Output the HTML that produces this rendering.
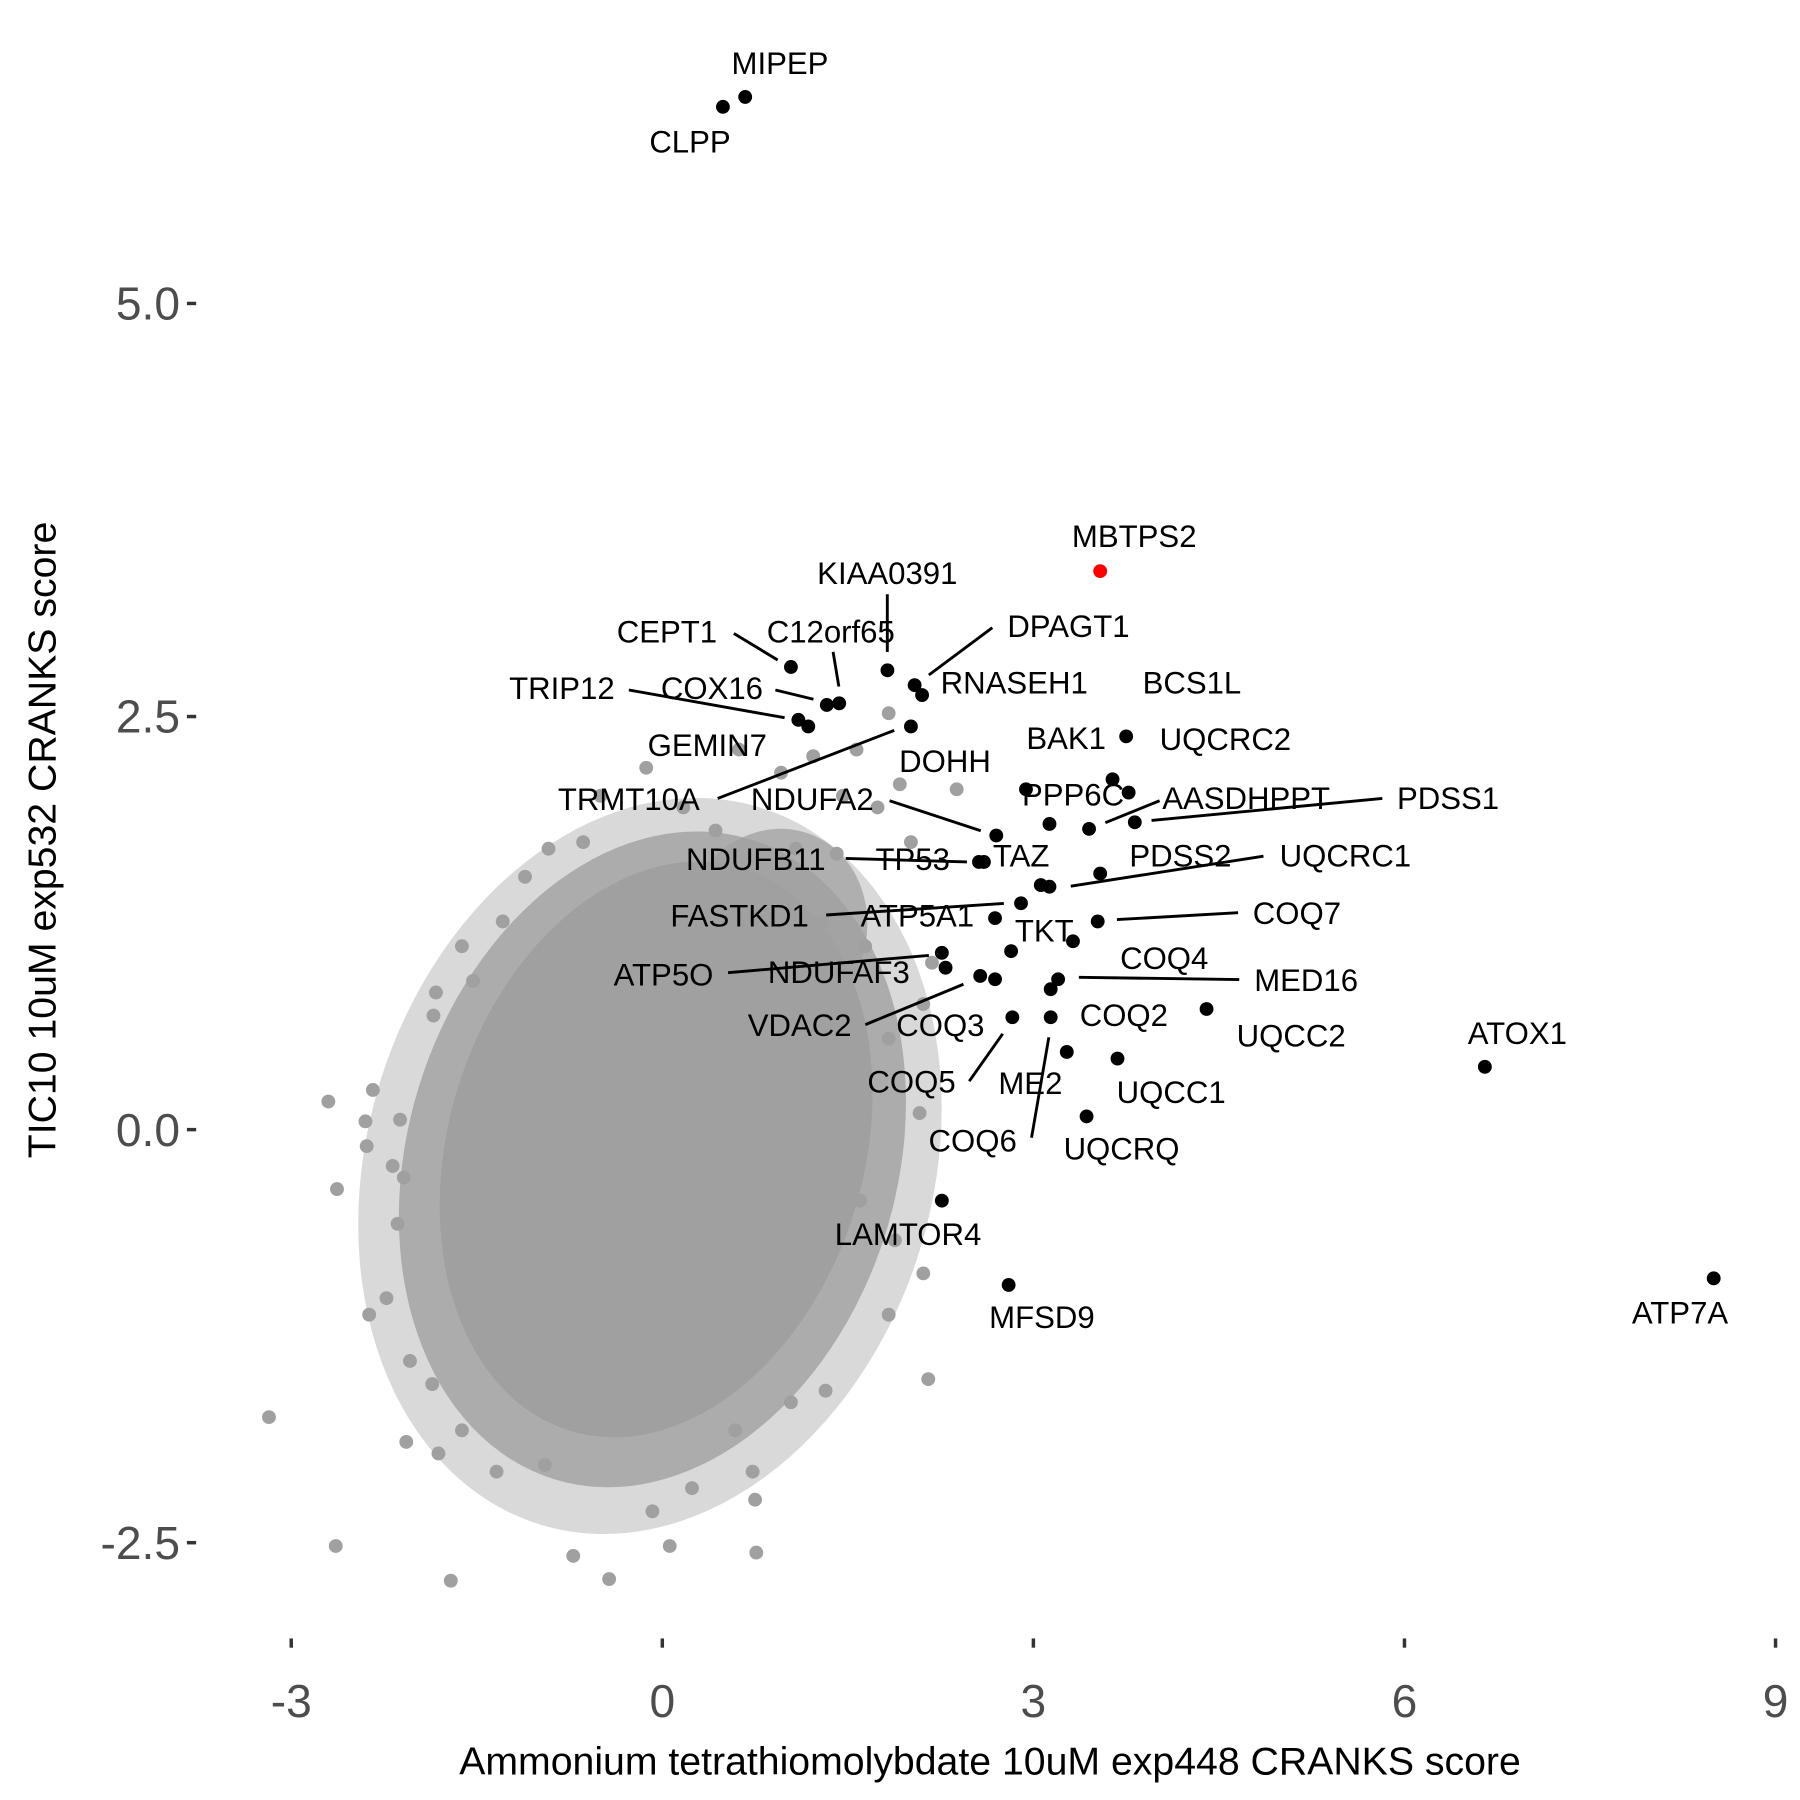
<!DOCTYPE html>
<html><head><meta charset="utf-8"><style>
html,body{margin:0;padding:0;background:#fff;}
svg{display:block;font-family:"Liberation Sans",Arial,sans-serif;}
</style></head><body>
<svg id="chart" width="1800" height="1800" viewBox="0 0 1560 1560" xmlns="http://www.w3.org/2000/svg">
<g id="axes"></g>
<g id="cloud"></g>
<g id="hits"></g>
<text x="858" y="1538" font-size="34" text-anchor="middle" fill="#000">Ammonium tetrathiomolybdate 10uM exp448 CRANKS score</text>
<text transform="translate(48,728) rotate(-90)" font-size="34" text-anchor="middle" fill="#000">TIC10 10uM exp532 CRANKS score</text>
</svg>
<script>
const xTicks=[-3,0,3,6,9];
const xTickLabels=["-3","0","3","6","9"];
const yTicks=[5,2.5,0,-2.5];
const yTickLabels=["5.0","2.5","0.0","-2.5"];
const bgX=[-2.70,-2.63,-3.18,-2.64,-1.71,-2.34,-2.40,-2.39,-0.72,-0.43,0.75,0.73,2.15,2.38,2.08,2.11,1.88,0.76,0.06,-2.23,-2.37,-1.81,-2.07,-2.14,-2.09,-1.83,-1.85,-1.29,-0.92,-0.50,-0.13,0.17,0.62,0.96,1.22,1.57,1.83,1.92,1.46,1.74,2.01,2.18,2.11,1.83,1.55,1.60,1.83,1.32,1.04,0.59,0.24,-0.08,-0.95,-1.34,-1.62,-1.86,-2.04,-2.12,-2.18,-1.62,-1.53,-1.11,-0.64,0.43,1.08,1.41,1.29,1.64];
const bgY=[0.17,-0.36,-1.74,-2.52,-2.73,0.24,0.05,-0.10,-2.58,-2.72,-2.24,-2.07,-1.51,2.06,0.10,-0.87,-0.67,-2.56,-2.52,-1.02,-1.12,-1.96,-1.89,-0.57,-0.29,0.83,0.69,1.26,1.70,2.02,2.19,1.95,2.30,2.16,2.26,2.30,2.52,2.09,2.02,1.95,1.74,1.01,0.76,0.55,0.13,-0.43,-1.12,-1.58,-1.65,-1.82,-2.17,-2.31,-2.03,-2.07,-1.82,-1.54,-1.40,0.06,-0.22,1.11,0.90,1.53,1.74,1.81,1.70,1.67,1.25,1.11];
const hitNames=["MIPEP","CLPP","MBTPS2","KIAA0391","DPAGT1","C12orf65","CEPT1","RNASEH1","COX16","TRIP12","GEMIN7","TRMT10A","BCS1L","UQCRC2","BAK1","PPP6C","DOHH","AASDHPPT","PDSS1","NDUFA2","NDUFB11","TP53","PDSS2","UQCRC1","TAZ","FASTKD1","ATP5A1","COQ7","TKT","TKT2","ATP5O","NDUFAF3","MED16","COQ4","COQ3","VDAC2","UQCC2","COQ2","ATOX1","COQ5","ME2","UQCC1","UQCRQ","LAMTOR4","MFSD9","ATP7A"];
const hitX=[0.67,0.49,3.54,1.82,2.04,1.43,1.04,2.10,1.33,1.10,1.18,2.01,3.75,3.64,3.77,2.94,3.13,3.45,3.82,2.70,2.56,2.60,3.54,3.06,3.13,2.90,2.69,3.52,3.32,2.82,2.26,2.29,3.20,3.14,2.57,2.69,4.40,3.14,6.65,2.83,3.27,3.68,3.43,2.26,2.80,8.50];
const hitY=[6.25,6.19,3.38,2.78,2.69,2.58,2.80,2.63,2.57,2.48,2.44,2.44,2.38,2.12,2.04,2.06,1.85,1.82,1.86,1.78,1.62,1.62,1.55,1.48,1.47,1.37,1.28,1.26,1.14,1.08,1.07,0.98,0.91,0.85,0.93,0.91,0.73,0.68,0.38,0.68,0.47,0.43,0.08,-0.43,-0.94,-0.90];
// label layout: [text, x, y, line(x1,y1,x2,y2) or null]
const labelLayout=[
["MIPEP",676,64,null],["CLPP",598,132,null],["MBTPS2",983,474,null],
["KIAA0391",769,506,[769,515,769,565]],["DPAGT1",926,552,[860,544,805,585]],
["C12orf65",720,557,[722,565,727,595]],["CEPT1",578,557,[636,549,674,572]],
["RNASEH1",879,601,null],["COX16",617,606,[672,598,705,606]],["TRIP12",487,606,[545,598,680,622]],
["GEMIN7",613,655,null],["TRMT10A",545,702,[622,692,775,633]],["DOHH",819,669,null],
["BCS1L",1033,601,null],["UQCRC2",1062,650,null],["BAK1",924,649,null],["PPP6C",930,698,null],
["AASDHPPT",1080,701,[1005,694,958,713]],["PDSS1",1255,701,[1198,692,998,711]],
["NDUFA2",704,702,[771,694,850,720]],["NDUFB11",655,754,[733,744,838,747]],["TP53",791,754,null],
["TAZ",885,751,null],["PDSS2",1023,751,null],["UQCRC1",1166,751,[1095,742,928,768]],
["FASTKD1",641,803,[716,793,870,783]],["ATP5A1",795,803,null],["COQ7",1124,801,[1073,791,968,797]],
["TKT",905,816,null],["COQ4",1009,840,null],["ATP5O",575,854,[631,843,805,828]],["NDUFAF3",727,852,null],
["MED16",1132,859,[1074,849,935,847]],["COQ3",815,898,null],["VDAC2",693,898,[750,888,835,853]],
["UQCC2",1119,907,null],["COQ2",974,889,null],["ATOX1",1315,905,null],
["COQ5",790,947,[840,937,869,896]],["ME2",893,948,null],["UQCC1",1015,956,null],
["COQ6",843,998,[894,986,909,899]],["UQCRQ",972,1005,null],["LAMTOR4",787,1079,null],
["MFSD9",903,1151,null],["ATP7A",1456,1147,null]];
const NS="http://www.w3.org/2000/svg";
const sx=v=>574+v*107.2;
const sy=v=>979-v*143.2;
function mk(tag,attrs,parent){const e=document.createElementNS(NS,tag);for(const k in attrs)e.setAttribute(k,attrs[k]);parent.appendChild(e);return e;}
const axes=document.getElementById('axes');
xTicks.forEach((t,i)=>{
 const l=mk('line',{x1:sx(t),x2:sx(t),y1:1420,y2:1428,stroke:'#333','stroke-width':3},axes);
 
 
 const tx=mk('text',{x:sx(t),y:1488,'font-size':40,'text-anchor':'middle',fill:'#4d4d4d'},axes);
 tx.textContent=xTickLabels[i];
 
 
});
yTicks.forEach((t,i)=>{
 const l=mk('line',{x1:162,x2:170,y1:sy(t),y2:sy(t),stroke:'#333','stroke-width':3},axes);
 
 
 const tx=mk('text',{x:156,y:sy(t)+14,'font-size':40,'text-anchor':'end',fill:'#4d4d4d'},axes);
 tx.textContent=yTickLabels[i];
 
 
});
const cloud=document.getElementById('cloud');
// density layers: [cx, cy (data), rx, ry (px), rotation, opacity]
[[-0.1,-0.22,245,325,17,0.4],[-0.08,-0.18,212,290,17,0.8],[-0.05,-0.12,180,255,17,1],[0.9,1.2,80,90,20,0.75]].forEach(e=>{
 const el=mk('ellipse',{cx:sx(e[0]),cy:sy(e[1]),rx:e[2],ry:e[3],fill:'#a0a0a0','fill-opacity':e[5],transform:`rotate(${e[4]} ${sx(e[0])} ${sy(e[1])})`},cloud);
 
 
});
bgX.forEach((x,i)=>{
 const c=mk('circle',{cx:sx(x),cy:sy(bgY[i]),r:6,fill:'#a0a0a0'},cloud);
 
 
});
const hits=document.getElementById('hits');
labelLayout.forEach(L=>{
 if(L[3]){const ln=mk('line',{x1:L[3][0],y1:L[3][1],x2:L[3][2],y2:L[3][3],stroke:'#000','stroke-width':2.5},hits);
 
 }
});
hitX.forEach((x,i)=>{
 const c=mk('circle',{cx:sx(x),cy:sy(hitY[i]),r:6,fill:hitNames[i]==='MBTPS2'?'#ff0000':'#000'},hits);
 
 
});
labelLayout.forEach(L=>{
 const t=mk('text',{x:L[1],y:L[2],'font-size':27,'text-anchor':'middle',fill:'#000'},hits);
 t.textContent=L[0];
 
 
});
</script>
</body></html>
